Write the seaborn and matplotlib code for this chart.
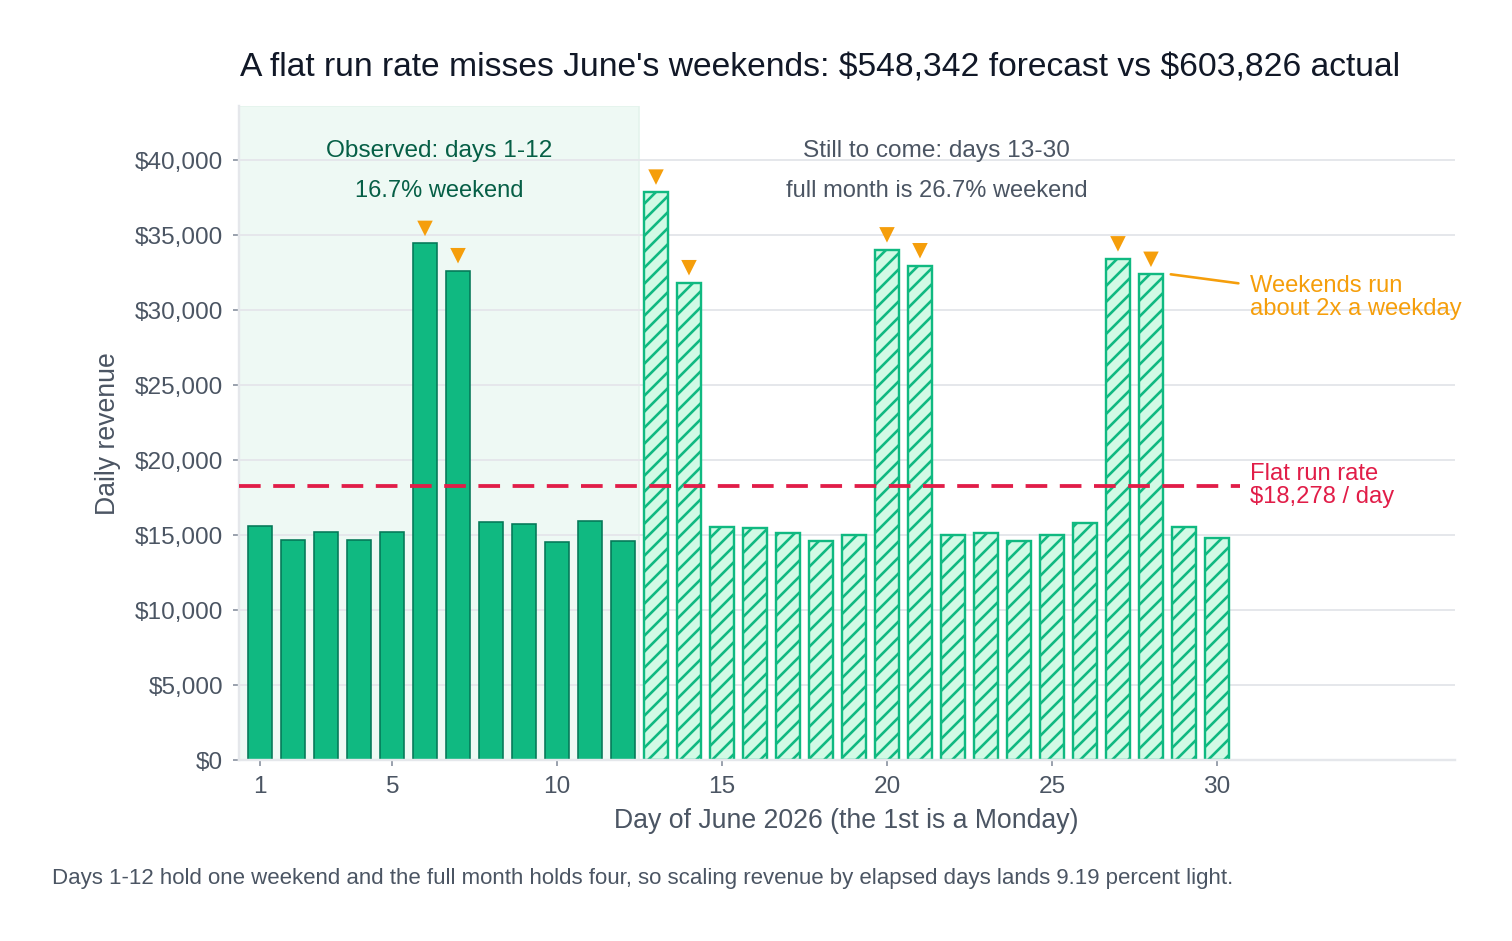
import pandas as pd
import seaborn as sns
import matplotlib.pyplot as plt
from matplotlib.ticker import FuncFormatter

# Daily revenue for June 2026
obs_days = list(range(1, 13))
obs_revenue = [15640, 14700, 15190, 14700, 15190, 34460, 32640, 15867, 15770, 14580, 15970, 14630]
rest_days = list(range(13, 31))
rest_revenue = [37880, 31840, 15560, 15500, 15160, 14650, 15020, 34030, 32970,
                15020, 15160, 14650, 15020, 15850, 33430, 32400, 15560, 14789]
weekend_days = [6, 7, 13, 14, 20, 21, 27, 28]
run_rate = 18278
x_ticks = [1, 5, 10, 15, 20, 25, 30]
y_ticks = [0, 5000, 10000, 15000, 20000, 25000, 30000, 35000, 40000]

sns.set_style("white")
plt.rcParams['font.family'] = ['Liberation Sans', 'DejaVu Sans']
plt.rcParams['text.parse_math'] = False
plt.rcParams['hatch.linewidth'] = 1.3

GREEN = "#10b981"
DARK_GREEN = "#047857"
MINT = "#d1fae5"
ORANGE = "#f59e0b"
RED = "#e11d48"
GRAY = "#4b5563"

obs = pd.DataFrame({"day": obs_days, "revenue": obs_revenue})
rest = pd.DataFrame({"day": rest_days, "revenue": rest_revenue})
allday = pd.concat([obs, rest], ignore_index=True)
wk = allday[allday["day"].isin(weekend_days)].copy()
wk["marker_y"] = wk["revenue"] + 1000

fig = plt.figure(figsize=(10.5, 6.535), dpi=144)
ax = fig.add_axes([0.158, 0.192, 0.804, 0.695])

xmin, xmax = 0.36, 37.2
ax.axvspan(xmin, 12.5, color="#eef9f4", zorder=0, lw=0.8, ec="#e3f3ec")

sns.barplot(data=obs, x="day", y="revenue", native_scale=True, width=0.75,
            color=GREEN, edgecolor=DARK_GREEN, linewidth=0.8, saturation=1, ax=ax, zorder=2)
sns.barplot(data=rest, x="day", y="revenue", native_scale=True, width=0.75,
            color=MINT, edgecolor=GREEN, linewidth=1.2, saturation=1, hatch="///", ax=ax, zorder=2)

sns.scatterplot(data=wk, x="day", y="marker_y", marker="v", s=60, color=ORANGE,
                edgecolor="none", ax=ax, zorder=3)

ax.plot([xmin, 30.7], [run_rate, run_rate], color=RED, lw=1.9, ls=(0, (5.7, 3.3)), zorder=4)

ax.set_xlim(xmin, xmax)
ax.set_ylim(0, 43600)
ax.set_xticks(x_ticks)
ax.set_yticks(y_ticks)
ax.yaxis.set_major_formatter(FuncFormatter(lambda v, p: f"${v:,.0f}"))
ax.grid(axis="y", color="#e5e7eb", lw=1)
ax.set_axisbelow(True)
ax.tick_params(axis="both", labelsize=12.2, colors="#9ca3af", labelcolor=GRAY,
               length=3, width=1, direction="out", pad=5)
ax.tick_params(axis="x", bottom=True)
ax.tick_params(axis="y", left=True)
for s in ["top", "right"]:
    ax.spines[s].set_visible(False)
for s in ["left", "bottom"]:
    ax.spines[s].set_color("#e5e7eb")
    ax.spines[s].set_linewidth(1.2)

ax.set_xlabel("Day of June 2026 (the 1st is a Monday)", fontsize=13.3, color=GRAY, labelpad=5)
ax.set_ylabel("Daily revenue", fontsize=13.3, color=GRAY, labelpad=7)

mid_obs = (xmin + 12.5) / 2
ax.text(mid_obs, 40650, "Observed: days 1-12", ha="center", va="center", fontsize=12.2, color="#065f46")
ax.text(mid_obs, 37950, "16.7% weekend", ha="center", va="center", fontsize=11.8, color="#065f46")
ax.text(21.5, 40650, "Still to come: days 13-30", ha="center", va="center", fontsize=12.2, color=GRAY)
ax.text(21.5, 37950, "full month is 26.7% weekend", ha="center", va="center", fontsize=11.8, color=GRAY)

ax.plot([28.6, 30.65], [32400, 31800], color=ORANGE, lw=1.3, zorder=4)
ax.text(31.0, 30850, "Weekends run\nabout 2x a weekday", ha="left", va="center",
        fontsize=11.9, color=ORANGE, linespacing=1.1)
ax.text(31.0, run_rate + 50, "Flat run rate\n$18,278 / day", ha="left", va="center",
        fontsize=11.9, color=RED, linespacing=1.1)

fig.text(0.1587, 0.928, "A flat run rate misses June's weekends: $548,342 forecast vs $603,826 actual",
         ha="left", va="center", fontsize=16.8, color="#111827")
fig.text(0.0344, 0.066, "Days 1-12 hold one weekend and the full month holds four, so scaling revenue "
         "by elapsed days lands 9.19 percent light.", ha="left", va="center", fontsize=11.1, color=GRAY)

fig.savefig("out.png", dpi=144)
